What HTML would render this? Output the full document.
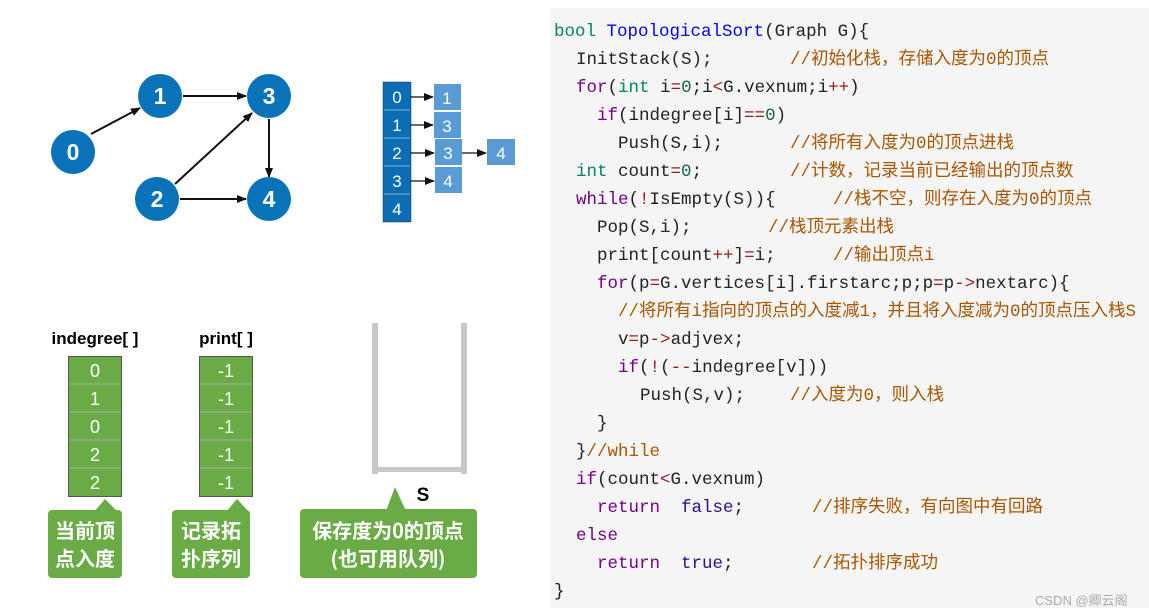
<!DOCTYPE html>
<html><head><meta charset="utf-8"><style>
body{margin:0;width:1149px;height:616px;background:#fff;position:relative;overflow:hidden;font-family:"Liberation Sans","Noto Sans CJK SC",sans-serif}
svg{position:absolute;left:0;top:0}
#code{position:absolute;left:550px;top:8px;width:599px;height:600px;background:#f5f5f5}
.l{position:absolute;font-family:"Liberation Mono","Noto Sans CJK SC",monospace;font-size:17.5px;color:#222;white-space:pre;line-height:20px;transform:translateY(2px)}
.k{color:#770088}.t{color:#008855}.f{color:#0000ff}.c{color:#aa5500;font-family:"Liberation Mono","Noto Sans CJK SC",monospace}.o{color:#981a1a}.n{color:#116644}.a{color:#221199}
.wm{position:absolute;left:1035px;top:590px;font-size:13px;color:#aaa}
</style></head><body>
<svg width="1149" height="616">
<defs><marker id="ar" markerWidth="10" markerHeight="8" refX="9" refY="4" orient="auto" markerUnits="userSpaceOnUse"><path d="M0,0 L10,4 L0,8z" fill="#111"/></marker></defs>
<g stroke="#111" stroke-width="2" marker-end="url(#ar)">
<line x1="91" y1="134" x2="140" y2="108"/>
<line x1="183" y1="96" x2="246" y2="96"/>
<line x1="269" y1="119" x2="269" y2="177"/>
<line x1="175" y1="184" x2="252" y2="113"/>
<line x1="180" y1="199" x2="246" y2="199"/>
</g>
<g fill="#0873b9"><circle cx="73" cy="152" r="22"/><circle cx="160" cy="96" r="22"/><circle cx="269" cy="96" r="22"/><circle cx="157" cy="199" r="22"/><circle cx="269" cy="199" r="22"/></g>
<g fill="#fff" font-size="23" font-weight="bold" text-anchor="middle"><text x="73" y="160">0</text><text x="160" y="104">1</text><text x="269" y="104">3</text><text x="157" y="207">2</text><text x="269" y="207">4</text></g>
<rect x="383" y="82" width="28" height="140" fill="#0b6db3" stroke="#235" stroke-width="0.5"/>
<g stroke="#8ab3d8" stroke-width="1"><line x1="384" y1="110" x2="410" y2="110"/><line x1="384" y1="138" x2="410" y2="138"/><line x1="384" y1="166" x2="410" y2="166"/><line x1="384" y1="194" x2="410" y2="194"/></g>
<g fill="#fff" font-size="17" text-anchor="middle"><text x="397" y="103">0</text><text x="397" y="131">1</text><text x="397" y="159">2</text><text x="397" y="187">3</text><text x="397" y="215">4</text></g>
<g fill="#5b9bd5"><rect x="434" y="84" width="27" height="26"/><rect x="434" y="112" width="27" height="26"/><rect x="435" y="139" width="27" height="26"/><rect x="435" y="167" width="27" height="26"/><rect x="487" y="139" width="28" height="26"/></g>
<g fill="#fff" font-size="17" text-anchor="middle"><text x="447" y="104">1</text><text x="447" y="132">3</text><text x="448" y="159">3</text><text x="448" y="187">4</text><text x="501" y="159">4</text></g>
<g stroke="#111" stroke-width="1.3" marker-end="url(#ar)"><line x1="410" y1="97" x2="433" y2="97"/><line x1="410" y1="125" x2="433" y2="125"/><line x1="410" y1="153" x2="434" y2="153"/><line x1="410" y1="181" x2="434" y2="181"/><line x1="462" y1="153" x2="486" y2="153"/></g>
<text x="95" y="344" font-size="17" font-weight="bold" text-anchor="middle">indegree[ ]</text>
<text x="226" y="344" font-size="17" font-weight="bold" text-anchor="middle">print[ ]</text>
<g fill="#6aab45" stroke="#555" stroke-width="1"><rect x="68.5" y="356.5" width="53" height="140"/><rect x="199.5" y="356.5" width="53" height="140"/></g>
<g stroke="#aaa" stroke-width="1"><line x1="69" y1="384" x2="121" y2="384"/><line x1="69" y1="412" x2="121" y2="412"/><line x1="69" y1="440" x2="121" y2="440"/><line x1="69" y1="468" x2="121" y2="468"/><line x1="200" y1="384" x2="252" y2="384"/><line x1="200" y1="412" x2="252" y2="412"/><line x1="200" y1="440" x2="252" y2="440"/><line x1="200" y1="468" x2="252" y2="468"/></g>
<g fill="#fff" font-size="18" text-anchor="middle"><text x="95" y="377">0</text><text x="95" y="405">1</text><text x="95" y="433">0</text><text x="95" y="461">2</text><text x="95" y="489">2</text>
<text x="226" y="377">-1</text><text x="226" y="405">-1</text><text x="226" y="433">-1</text><text x="226" y="461">-1</text><text x="226" y="489">-1</text></g>
<g fill="#c8c8c8"><rect x="372" y="323" width="6" height="151"/><rect x="461" y="323" width="6" height="151"/><rect x="375" y="467" width="90" height="5"/></g>
<text x="423" y="501" font-size="19" font-weight="bold" text-anchor="middle">S</text>
<g fill="#6aab45">
<rect x="48" y="510" width="74" height="68" rx="4"/><path d="M94,512 L105,499 L118,512z"/>
<rect x="172" y="510" width="78" height="68" rx="4"/><path d="M226,512 L237,499 L249,512z"/>
<rect x="300" y="509" width="177" height="69" rx="4"/><path d="M386,511 L395,487 L406,511z"/>
</g>
<g fill="#fff" font-size="20" font-weight="bold" text-anchor="middle" font-family="Noto Sans CJK SC,sans-serif">
<text x="85" y="538">当前顶</text><text x="85" y="566">点入度</text>
<text x="211" y="538">记录拓</text><text x="211" y="566">扑序列</text>
<text x="388" y="538">保存度为0的顶点</text><text x="388" y="566">(也可用队列)</text>
</g>
</svg>
<div id="code"></div>
<div class="l" style="left:554px;top:20px"><span class="t">bool</span> <span class="f">TopologicalSort</span>(Graph G){</div>
<div class="l" style="left:576px;top:48px">InitStack(S);</div><div class="l c" style="left:790px;top:48px">//初始化栈，存储入度为0的顶点</div>
<div class="l" style="left:576px;top:76px"><span class="k">for</span>(<span class="t">int</span> i<span class="o">=</span><span class="n">0</span>;i<span class="o">&lt;</span>G.vexnum;i<span class="o">++</span>)</div>
<div class="l" style="left:597px;top:104px"><span class="k">if</span>(indegree[i]<span class="o">==</span><span class="n">0</span>)</div>
<div class="l" style="left:618px;top:132px">Push(S,i);</div><div class="l c" style="left:790px;top:132px">//将所有入度为0的顶点进栈</div>
<div class="l" style="left:576px;top:160px"><span class="t">int</span> count<span class="o">=</span><span class="n">0</span>;</div><div class="l c" style="left:790px;top:160px">//计数，记录当前已经输出的顶点数</div>
<div class="l" style="left:576px;top:188px"><span class="k">while</span>(<span class="o">!</span>IsEmpty(S)){</div><div class="l c" style="left:833px;top:188px">//栈不空，则存在入度为0的顶点</div>
<div class="l" style="left:597px;top:216px">Pop(S,i);</div><div class="l c" style="left:768px;top:216px">//栈顶元素出栈</div>
<div class="l" style="left:597px;top:244px">print[count<span class="o">++</span>]<span class="o">=</span>i;</div><div class="l c" style="left:833px;top:244px">//输出顶点i</div>
<div class="l" style="left:597px;top:272px"><span class="k">for</span>(p<span class="o">=</span>G.vertices[i].firstarc;p;p<span class="o">=</span>p<span class="o">-&gt;</span>nextarc){</div>
<div class="l c" style="left:618px;top:300px">//将所有i指向的顶点的入度减1，并且将入度减为0的顶点压入栈S</div>
<div class="l" style="left:618px;top:328px">v<span class="o">=</span>p<span class="o">-&gt;</span>adjvex;</div>
<div class="l" style="left:618px;top:356px"><span class="k">if</span>(<span class="o">!</span>(<span class="o">--</span>indegree[v]))</div>
<div class="l" style="left:640px;top:384px">Push(S,v);</div><div class="l c" style="left:790px;top:384px">//入度为0，则入栈</div>
<div class="l" style="left:597px;top:412px">}</div>
<div class="l" style="left:576px;top:440px">}<span class="c">//while</span></div>
<div class="l" style="left:576px;top:468px"><span class="k">if</span>(count<span class="o">&lt;</span>G.vexnum)</div>
<div class="l" style="left:597px;top:496px"><span class="k">return</span>  <span class="a">false</span>;</div><div class="l c" style="left:812px;top:496px">//排序失败，有向图中有回路</div>
<div class="l" style="left:576px;top:524px"><span class="k">else</span></div>
<div class="l" style="left:597px;top:552px"><span class="k">return</span>  <span class="a">true</span>;</div><div class="l c" style="left:812px;top:552px">//拓扑排序成功</div>
<div class="l" style="left:554px;top:580px">}</div>
<div class="wm">CSDN @卿云阁</div>
</body></html>
